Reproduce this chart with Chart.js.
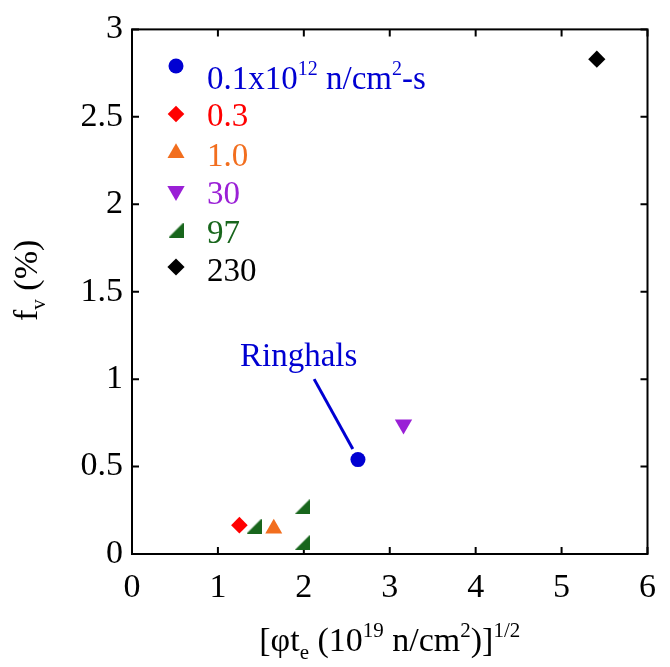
<!DOCTYPE html>
<html>
<head>
<meta charset="utf-8">
<script src="https://cdn.jsdelivr.net/npm/chart.js@4.4.1/dist/chart.umd.min.js"></script>
<style>
  html, body { margin: 0; padding: 0; background: #fff; }
</style>
</head>
<body>
<canvas id="chart" width="670" height="667"></canvas>
<script>
// series
const seriesLabels = ["0.1x10^12 n/cm^2-s", "0.3", "1.0", "30", "97", "230"];
const seriesColors = ["#0000d2", "#ff0000", "#f26e1e", "#9a20d6", "#18661c", "#000000"];
const flux01 = [{ x: 2.63, y: 0.54 }];
const flux03 = [{ x: 1.25, y: 0.165 }];
const flux10 = [{ x: 1.65, y: 0.145 }];
const flux30 = [{ x: 3.16, y: 0.74 }];
const flux97 = [{ x: 1.42, y: 0.16 }, { x: 1.98, y: 0.27 }, { x: 1.98, y: 0.065 }];
const flux230 = [{ x: 5.41, y: 2.83 }];

const xTicks = [0, 1, 2, 3, 4, 5, 6];
const yTicks = [0, 0.5, 1, 1.5, 2, 2.5, 3];

// annotation pointing at the Ringhals point
const ringhalsLeader = [{ x: 2.12, y: 1.0 }, { x: 2.57, y: 0.6 }];
const ringhalsText = "Ringhals";
const ringhalsAt = { x: 1.94, y: 1.075 };

// Tinos keeps its serifs at large sizes here
const FONT = "Tinos";
Chart.defaults.font.family = FONT;

// green half-triangle marker
function wedge(color, s) {
  const c = document.createElement("canvas");
  c.width = s; c.height = s;
  const g = c.getContext("2d");
  g.fillStyle = color;
  g.beginPath();
  g.moveTo(0, s); g.lineTo(s, s); g.lineTo(s, 0);
  g.closePath(); g.fill();
  return c;
}

const markers = [
  { pointStyle: "circle", radius: 7.5, rotation: 0 },
  { pointStyle: "rectRot", radius: 8.3, rotation: 0 },
  { pointStyle: "triangle", radius: 9.8, rotation: 0 },
  { pointStyle: "triangle", radius: 10, rotation: 180 },
  { pointStyle: wedge(seriesColors[4], 15), radius: 8, rotation: 0 },
  { pointStyle: "rectRot", radius: 8.6, rotation: 0 }
];

const seriesData = [flux01, flux03, flux10, flux30, flux97, flux230];

const datasets = seriesData.map((d, i) => ({
  type: "scatter",
  label: seriesLabels[i],
  data: d,
  backgroundColor: seriesColors[i],
  borderColor: seriesColors[i],
  borderWidth: 0,
  pointStyle: markers[i].pointStyle,
  pointRadius: markers[i].radius,
  pointRotation: markers[i].rotation,
  clip: false
}));

datasets.unshift({
  type: "line",
  label: "leader",
  data: ringhalsLeader,
  borderColor: seriesColors[0],
  borderWidth: 3,
  pointRadius: 0,
  fill: false
});

// text with super/subscripts: parts = [[text, kind]], kind 1 = sup, -1 = sub
function setFont(ctx, size) {
  ctx.font = Math.round(size) + "px " + FONT;
}
function richWidth(ctx, parts, size) {
  let w = 0;
  parts.forEach(([t, k]) => {
    setFont(ctx, k ? size * 0.62 : size);
    w += ctx.measureText(t).width;
  });
  return w;
}
function drawRich(ctx, parts, x, y, size, color, align) {
  let cx = align === "center" ? x - richWidth(ctx, parts, size) / 2 : x;
  ctx.fillStyle = color;
  ctx.textBaseline = "alphabetic";
  ctx.textAlign = "left";
  parts.forEach(([t, k]) => {
    setFont(ctx, k ? size * 0.62 : size);
    const dy = k === 1 ? -size * 0.42 : k === -1 ? size * 0.24 : 0;
    ctx.fillText(t, cx, y + dy);
    cx += ctx.measureText(t).width;
  });
}

const frame = {
  id: "frame",
  beforeDatasetsDraw(chart) {
    const { ctx, chartArea: a, scales: { x, y } } = chart;
    ctx.save();
    ctx.strokeStyle = "#000";
    ctx.lineWidth = 2;
    ctx.strokeRect(a.left, a.top, a.right - a.left, a.bottom - a.top);
    const len = 7;
    ctx.beginPath();
    xTicks.forEach(v => {
      const px = x.getPixelForValue(v);
      ctx.moveTo(px, a.bottom); ctx.lineTo(px, a.bottom - len);
      ctx.moveTo(px, a.top); ctx.lineTo(px, a.top + len);
    });
    yTicks.forEach(v => {
      const py = y.getPixelForValue(v);
      ctx.moveTo(a.left, py); ctx.lineTo(a.left + len, py);
      ctx.moveTo(a.right, py); ctx.lineTo(a.right - len, py);
    });
    ctx.stroke();
    ctx.restore();
  },
  afterDraw(chart) {
    const { ctx, chartArea: a, scales: { x, y } } = chart;
    ctx.save();

    // axis titles
    drawRich(ctx, [["[\u03c6t", 0], ["e", -1], [" (10", 0], ["19", 1], [" n/cm", 0], ["2", 1], [")]", 0], ["1/2", 1]],
      (a.left + a.right) / 2, 651, 34, "#000", "center");
    ctx.save();
    ctx.translate(37, 321);
    ctx.rotate(-Math.PI / 2);
    drawRich(ctx, [["f", 0], ["v", -1], [" (%)", 0]], 0, 0, 34, "#000", "left");
    ctx.restore();

    // Ringhals label
    setFont(ctx, 33);
    ctx.fillStyle = seriesColors[0];
    ctx.textAlign = "center";
    ctx.textBaseline = "alphabetic";
    ctx.fillText(ringhalsText, x.getPixelForValue(ringhalsAt.x), y.getPixelForValue(ringhalsAt.y));

    // legend
    const markY = [66, 114, 153, 191, 230, 267];
    const textY = [89, 126, 166, 204, 243, 281];
    seriesLabels.forEach((lab, i) => {
      const m = markers[i];
      ctx.fillStyle = seriesColors[i];
      ctx.strokeStyle = seriesColors[i];
      Chart.helpers.drawPoint(ctx, { pointStyle: m.pointStyle, radius: m.radius, rotation: m.rotation, borderWidth: 0 }, 176, markY[i]);
      const parts = i === 0
        ? [["0.1x10", 0], ["12", 1], [" n/cm", 0], ["2", 1], ["-s", 0]]
        : [[lab, 0]];
      drawRich(ctx, parts, 207, textY[i], 33, seriesColors[i], "left");
    });
    ctx.restore();
  }
};

new Chart(document.getElementById("chart"), {
  type: "scatter",
  data: { datasets },
  options: {
    responsive: false,
    animation: false,
    layout: { padding: { top: 26, right: 9, left: 0, bottom: 0 } },
    plugins: { legend: { display: false }, tooltip: { enabled: false } },
    scales: {
      x: {
        type: "linear",
        min: 0, max: 6,
        afterBuildTicks: s => { s.ticks = xTicks.map(v => ({ value: v })); },
        afterFit: s => { s.height = 113; },
        grid: { display: false, drawTicks: false },
        border: { display: false },
        ticks: { color: "#000", font: { family: FONT, size: 34 }, padding: 14, maxRotation: 0, callback: v => String(v) }
      },
      y: {
        type: "linear",
        min: 0, max: 3,
        afterBuildTicks: s => { s.ticks = yTicks.map(v => ({ value: v })); },
        afterFit: s => { s.width = 132; },
        grid: { display: false, drawTicks: false },
        border: { display: false },
        ticks: { color: "#000", font: { family: FONT, size: 34 }, padding: 9, callback: v => String(v) }
      }
    }
  },
  plugins: [frame]
});
</script>
</body>
</html>
